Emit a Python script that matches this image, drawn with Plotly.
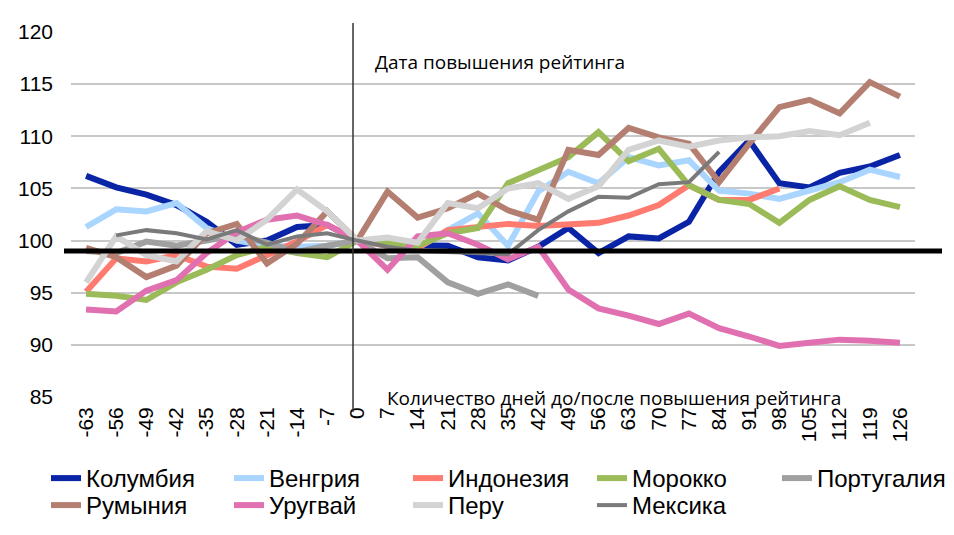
import plotly.graph_objects as go

days = [str(d) for d in range(-63, 127, 7)]

colombia = [106.2, 105.1, 104.4, 103.4, 101.8, 99.6, 100.0, 101.3, 101.5, 100.0,
            99.6, 99.6, 99.5, 98.4, 98.1, 99.4, 101.2, 98.8, 100.4, 100.2,
            101.8, 106.6, 109.6, 105.5, 105.1, 106.5, 107.1, 108.2]
hungary = [101.3, 103.0, 102.8, 103.6, 101.2, 100.0, 99.5, 99.4, 99.5, 100.0,
           99.5, 99.3, 101.0, 102.6, 99.5, 104.7, 106.6, 105.5, 108.0, 107.2,
           107.7, 104.8, 104.5, 104.0, 104.8, 105.6, 106.8, 106.1]
indonesia = [95.1, 98.3, 98.0, 98.6, 97.5, 97.3, 98.6, 99.9, 101.5, 100.0,
             99.5, 99.3, 101.0, 101.3, 101.6, 101.4, 101.6, 101.7, 102.4, 103.4,
             105.3, 103.9, 103.9, 105.0, None, None, None, None]
morocco = [94.9, 94.7, 94.3, 96.0, 97.2, 98.6, 99.4, 98.8, 98.4, 100.0,
           99.8, 99.5, 100.7, 101.2, 105.5, 106.8, 108.0, 110.4, 107.6, 108.8,
           105.3, 103.9, 103.5, 101.7, 103.9, 105.2, 103.9, 103.2]
portugal = [99.0, 98.8, 99.9, 99.5, 100.0, 100.5, 99.8, 98.9, 99.5, 100.0,
            98.3, 98.4, 96.0, 94.9, 95.8, 94.7, None, None, None, None,
            None, None, None, None, None, None, None, None]
romania = [99.3, 98.4, 96.5, 97.6, 100.7, 101.6, 97.8, 99.7, 102.8, 100.0,
           104.7, 102.2, 103.1, 104.5, 102.9, 102.0, 108.7, 108.2, 110.8, 109.9,
           109.3, 105.6, 109.3, 112.8, 113.5, 112.2, 115.2, 113.8]
uruguay = [93.4, 93.2, 95.2, 96.2, 98.8, 100.8, 102.0, 102.4, 101.5, 100.0,
           97.2, 100.4, 100.7, 99.6, 98.2, 99.4, 95.3, 93.5, 92.8, 92.0,
           93.0, 91.6, 90.8, 89.9, 90.2, 90.5, 90.4, 90.2]
peru = [96.0, 100.4, 98.6, 98.0, 100.9, 100.0, 102.0, 104.9, 102.8, 100.0,
        100.3, 99.8, 103.6, 103.1, 105.0, 105.5, 104.0, 105.2, 108.7, 109.6,
        109.0, 109.6, 109.9, 110.0, 110.5, 110.1, 111.3, None]
mexico = [None, 100.5, 101.0, 100.7, 100.1, 101.0, 99.6, 100.4, 100.7, 100.0,
          99.4, 99.0, 98.9, 98.8, 98.7, 101.0, 102.8, 104.2, 104.1, 105.4,
          105.6, 108.5, None, None, None, None, None, None]

series_names = ["Колумбия", "Венгрия", "Индонезия", "Морокко", "Португалия",
                "Румыния", "Уругвай", "Перу", "Мексика"]
series_values = [colombia, hungary, indonesia, morocco, portugal,
                 romania, uruguay, peru, mexico]
series_colors = ["#0A24A6", "#A9D5FF", "#FF7B70", "#9BBB59", "#A0A0A0",
                 "#B47F70", "#E070B0", "#D3D3D3", "#7A7A7A"]
series_widths = [6, 6, 6, 6, 6, 6, 6, 6, 4]

baseline_value = 99
y_ticks = [85, 90, 95, 100, 105, 110, 115, 120]

W, H = 954, 535
# plot area geometry (pixels)
PL, PR, PT, PB = 71, 915, 32, 397
PW, PH = PR - PL, PB - PT

def px_x(p):
    return (p - PL) / PW

def px_y(p):
    return (PB - p) / PH

# legend layout: text start x for columns, row centre y
col_text_x = [86, 269, 448, 632, 817]
row_center_y = [478, 505]

fig = go.Figure()
legend_layouts = {}
legend_font = dict(family="Liberation Sans Narrow, Liberation Sans, Arial", size=24, color="#000")
for i, (name, vals, color, w) in enumerate(zip(series_names, series_values, series_colors, series_widths)):
    lg = "legend" if i == 0 else f"legend{i + 1}"
    fig.add_trace(go.Scatter(
        x=days, y=vals, name=name, mode="lines", legend=lg,
        line=dict(color=color, width=w),
        connectgaps=False,
    ))
    row, col = divmod(i, 5)
    legend_layouts[lg] = dict(
        orientation="h", xanchor="left", yanchor="top",
        xref="container", yref="container",
        x=(col_text_x[col] - 40) / W, y=1 - (row_center_y[row] - 22) / H,
        font=legend_font, bgcolor="rgba(0,0,0,0)", itemwidth=30,
    )

fig.update_layout(
    width=W, height=H,
    margin=dict(l=PL, r=W - PR, t=PT, b=H - PB),
    plot_bgcolor="white", paper_bgcolor="white",
    showlegend=True,
    **legend_layouts,
    xaxis=dict(
        type="category", range=[-0.5, len(days) - 0.5], tickangle=-90,
        showgrid=False, showline=False, zeroline=False, ticks="", automargin=False,
        ticklabelstandoff=5,
        tickfont=dict(family="Liberation Sans, Arial", size=21, color="#000"),
    ),
    yaxis=dict(
        range=[85, 120], tickvals=y_ticks, showgrid=True, gridcolor="#C8C8C8",
        gridwidth=2, zeroline=False, showline=False, ticks="", automargin=False,
        ticklabelstandoff=17,
        tickfont=dict(family="Liberation Sans, Arial", size=21, color="#000"),
    ),
    shapes=[
        dict(type="line", xref="paper", yref="y", x0=px_x(64), x1=px_x(942),
             y0=baseline_value, y1=baseline_value,
             line=dict(color="black", width=5), layer="above"),
        dict(type="line", xref="paper", yref="paper", x0=px_x(353), x1=px_x(353),
             y0=px_y(412), y1=px_y(23), line=dict(color="#333333", width=1.5),
             layer="above"),
    ],
    annotations=[
        dict(text="Дата повышения рейтинга", xref="paper", yref="paper",
             x=px_x(373), y=px_y(62), xanchor="left", yanchor="middle",
             showarrow=False, font=dict(family="Open Sans", size=19, color="#000")),
        dict(text="Количество дней до/после повышения рейтинга", xref="paper", yref="paper",
             x=px_x(385), y=px_y(398), xanchor="left", yanchor="middle",
             showarrow=False, font=dict(family="Open Sans", size=19, color="#000")),
    ],
)

fig.write_html("out.html")
